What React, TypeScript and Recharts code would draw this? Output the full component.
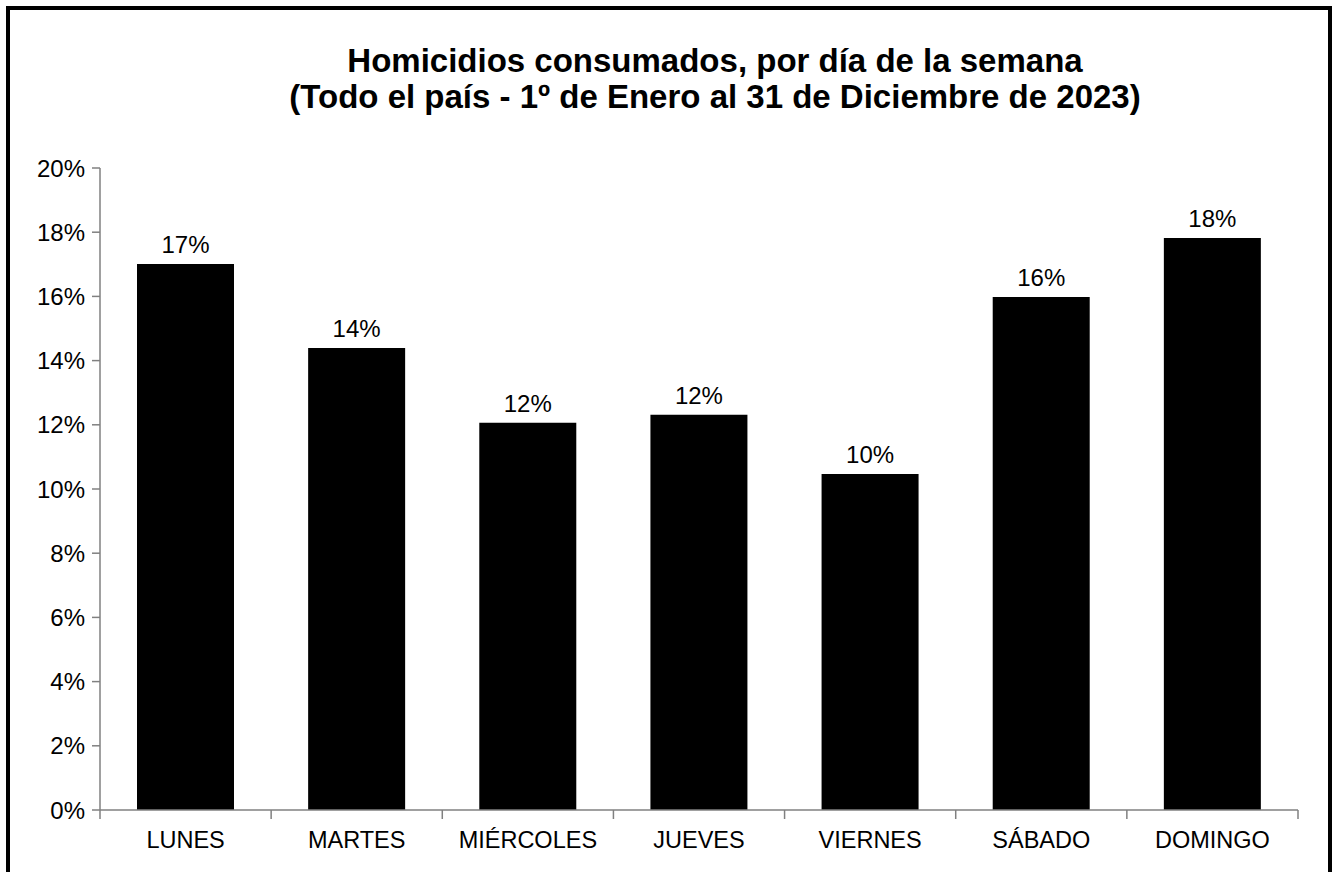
import React from "react";
import { BarChart, Bar, XAxis, YAxis, LabelList } from "recharts";

const days = ["LUNES", "MARTES", "MIÉRCOLES", "JUEVES", "VIERNES", "SÁBADO", "DOMINGO"];
const shares = [17.01, 14.39, 12.06, 12.31, 10.47, 15.98, 17.82];
const yTicks = [0, 2, 4, 6, 8, 10, 12, 14, 16, 18, 20];
const titleLines = [
  "Homicidios consumados, por día de la semana",
  "(Todo el país - 1º de Enero al 31 de Diciembre de 2023)",
];

const data = days.map((day, i) => ({ day, value: shares[i] }));

const FONT = '"Liberation Sans", Arial, sans-serif';
const AXIS = "#808080";
const PLOT_W = 1198;
const BAND = PLOT_W / days.length;
const TICK_SIZE = 9;
const TICK_MARGIN = 12;

// x ticks sit on category boundaries, labels in the middle
function DayTick(props: any) {
  const { x, y, payload, index } = props;
  const axisY = y - TICK_SIZE - TICK_MARGIN;
  const left = x - BAND / 2;
  return (
    <g>
      <line x1={left} x2={left} y1={axisY} y2={axisY + TICK_SIZE} stroke={AXIS} strokeWidth={1.5} />
      {index === days.length - 1 && (
        <line x1={x + BAND / 2} x2={x + BAND / 2} y1={axisY} y2={axisY + TICK_SIZE} stroke={AXIS} strokeWidth={1.5} />
      )}
      <text x={x} y={y} dy="0.71em" textAnchor="middle" fill="#000" fontSize={23.5} fontFamily={FONT}>
        {payload.value}
      </text>
    </g>
  );
}

export default function App() {
  return (
    <div
      style={{
        position: "absolute",
        left: 0,
        top: 0,
        width: 1338,
        height: 872,
        overflow: "hidden",
        background: "#fff",
        fontFamily: FONT,
      }}
    >
      <div
        style={{
          position: "absolute",
          left: 6,
          top: 6,
          width: 1326,
          height: 900,
          border: "4px solid #000",
          boxSizing: "border-box",
        }}
      />
      <svg width={1338} height={130} style={{ position: "absolute", left: 0, top: 0 }}>
        {titleLines.map((t, i) => (
          <text
            key={i}
            x={715}
            y={72 + i * 35.5}
            textAnchor="middle"
            fontSize={33}
            fontWeight="bold"
            fontFamily={FONT}
            fill="#000"
          >
            {t}
          </text>
        ))}
      </svg>
      <div style={{ position: "absolute", left: 0, top: 0 }}>
        <BarChart
          width={1338}
          height={872}
          data={data}
          margin={{ top: 168, right: 40, bottom: 22, left: 20 }}
          barSize={97}
        >
          <XAxis
            dataKey="day"
            height={40}
            axisLine={{ stroke: AXIS, strokeWidth: 1.5 }}
            tickLine={false}
            tickSize={TICK_SIZE}
            tickMargin={TICK_MARGIN}
            interval={0}
            tick={<DayTick />}
          />
          <YAxis
            width={80}
            domain={[0, 20]}
            ticks={yTicks}
            interval={0}
            axisLine={{ stroke: AXIS, strokeWidth: 1.5 }}
            tickLine={{ stroke: AXIS, strokeWidth: 1.5 }}
            tickSize={8}
            tickMargin={7}
            tick={{ fill: "#000", fontSize: 24, fontFamily: FONT }}
            tickFormatter={(v) => `${v}%`}
          />
          <Bar dataKey="value" fill="#000" isAnimationActive={false}>
            <LabelList
              dataKey="value"
              position="top"
              offset={11}
              fill="#000"
              fontSize={24}
              fontFamily={FONT}
              formatter={(v: any) => `${Math.round(Number(v))}%`}
            />
          </Bar>
        </BarChart>
      </div>
    </div>
  );
}
